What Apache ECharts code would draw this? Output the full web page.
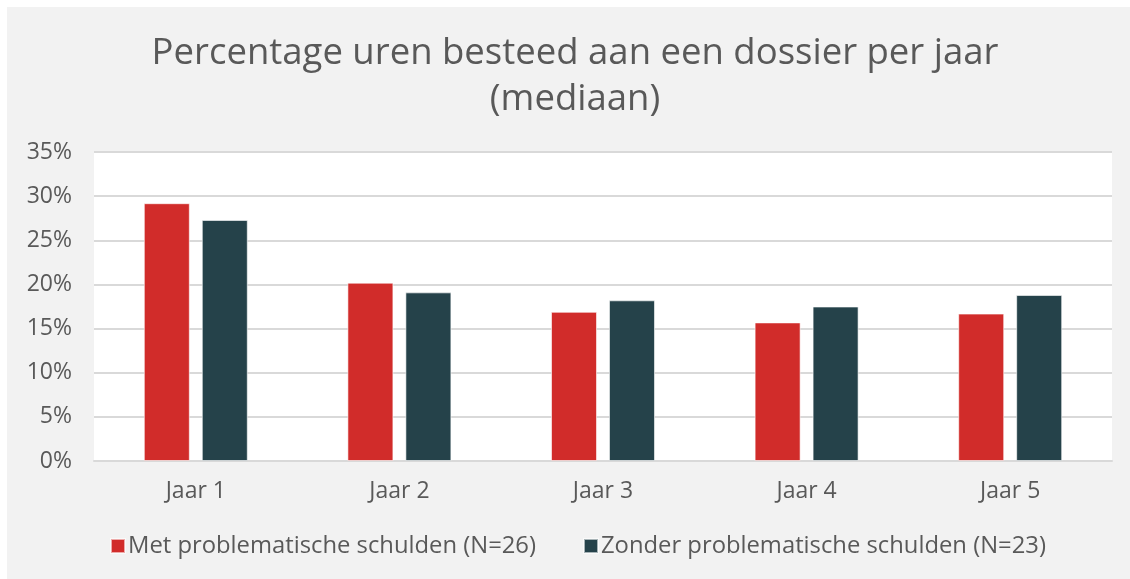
<!DOCTYPE html>
<html>
<head>
<meta charset="utf-8">
<script src="https://cdn.jsdelivr.net/npm/echarts@6/dist/echarts.min.js"></script>
<style>
  html, body { margin: 0; padding: 0; background: #ffffff; }
  #chart { position: absolute; left: 7px; top: 7px; width: 1123px; height: 572px; }
</style>
</head>
<body>
<div id="chart"></div>
<script>
const titleText = 'Percentage uren besteed aan een dossier per jaar\n(mediaan)';
const categories = ['Jaar 1', 'Jaar 2', 'Jaar 3', 'Jaar 4', 'Jaar 5'];
const seriesNames = ['Met problematische schulden (N=26)', 'Zonder problematische schulden (N=23)'];
const metValues = [29.2, 20.2, 16.9, 15.7, 16.7];
const zonderValues = [27.3, 19.1, 18.2, 17.5, 18.8];
const yTicks = { min: 0, max: 35, interval: 5 };

const textColor = '#595959';
const fontFamily = '"Open Sans", sans-serif';

const chart = echarts.init(document.getElementById('chart'));
chart.setOption({
  backgroundColor: '#f2f2f2',
  textStyle: { fontFamily: fontFamily },
  title: {
    text: titleText,
    left: 563,
    textAlign: 'center',
    top: 19,
    textStyle: { fontSize: 36.5, fontWeight: 'normal', color: textColor, lineHeight: 46, fontFamily: fontFamily }
  },
  legend: {
    bottom: 16,
    left: 98,
    itemWidth: 14,
    itemHeight: 14,
    itemGap: 47,
    icon: 'rect',
    textStyle: { fontSize: 23.8, color: textColor, fontFamily: fontFamily, padding: [0, 0, 0, -2] },
    data: seriesNames
  },
  grid: {
    left: 87, right: 18, top: 145, bottom: 118,
    show: true, backgroundColor: '#ffffff', borderWidth: 0
  },
  xAxis: {
    type: 'category',
    data: categories,
    axisLine: { show: true, lineStyle: { color: '#d9d9d9', width: 2 } },
    axisTick: { show: false },
    axisLabel: { fontSize: 23, color: textColor, margin: 19, fontFamily: fontFamily }
  },
  yAxis: {
    type: 'value',
    min: yTicks.min, max: yTicks.max, interval: yTicks.interval,
    axisLine: { show: false },
    axisTick: { show: false },
    splitLine: { lineStyle: { color: '#d9d9d9', width: 2 } },
    axisLabel: { fontSize: 23, color: textColor, margin: 22, formatter: '{value}%', fontFamily: fontFamily }
  },
  series: [
    {
      name: seriesNames[0], type: 'bar', data: metValues,
      barWidth: '22.6%', barGap: '26%',
      itemStyle: { color: '#d12c2a', borderColor: 'rgba(255,255,255,0.6)', borderWidth: 1 }
    },
    {
      name: seriesNames[1], type: 'bar', data: zonderValues,
      barWidth: '22.6%',
      itemStyle: { color: '#25424a', borderColor: 'rgba(255,255,255,0.6)', borderWidth: 1 }
    }
  ]
});
</script>
</body>
</html>
